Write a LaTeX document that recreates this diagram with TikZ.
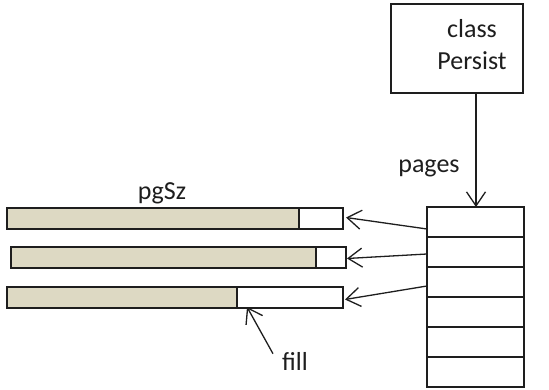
\documentclass[tikz,border=0pt]{standalone}
\usepackage{fontspec}
\setmainfont{Carlito}
\usetikzlibrary{arrows.meta}
\definecolor{ink}{HTML}{1E1E1E}
\definecolor{used}{HTML}{DDD9C3}
\tikzset{
  box/.style={draw=ink, line width=1.6pt, inner sep=0pt, outer sep=0pt, anchor=north west},
  cell/.style={box, minimum width=97pt, minimum height=30pt},
  filled/.style={box, fill=used, minimum height=21pt},
  spare/.style={box, fill=white, minimum height=21pt},
  ptr/.style={draw=ink, line width=1.3pt, -{Straight Barb[length=14pt, width=19pt, line width=1.3pt]}},
  lbl/.style={font=\fontsize{26}{32}\selectfont, text=ink, inner sep=0pt, anchor=base}
}
\begin{document}
\begin{tikzpicture}[x=1pt, y=-1pt]
  \useasboundingbox (0,0) rectangle (549,390);
  \fill[white] (0,0) rectangle (549,390);

  % the Persist object
  \node[box, minimum width=132pt, minimum height=89pt] (persist) at (391,4) {};
  \node[lbl] (cls) at (472,38) {class};
  \node[lbl] (per) at (472,70) {Persist};

  % array of page pointers
  \node[cell] (c1) at (427,207) {};
  \node[cell] (c2) at (427,237) {};
  \node[cell] (c3) at (427,267) {};
  \node[cell] (c4) at (427,297) {};
  \node[cell] (c5) at (427,327) {};
  \node[cell] (c6) at (427,357) {};
  \node[lbl] (pages) at (429,173) {pages};
  \coordinate (drop) at (476,93);
  \coordinate (land) at (476,207);
  \draw[ptr] (drop) -- (land);

  % pages: used part and free space
  \node[filled, minimum width=292pt] (p1u) at (7,208) {};
  \node[spare, minimum width=44pt] (p1f) at (p1u.north east) {};
  \node[filled, minimum width=305pt] (p2u) at (11,247) {};
  \node[spare, minimum width=30pt] (p2f) at (p2u.north east) {};
  \node[filled, minimum width=230pt] (p3u) at (7,287) {};
  \node[spare, minimum width=106pt] (p3f) at (p3u.north east) {};

  \node[lbl] (pgsz) at (162,200) {pgSz};
  \node[lbl] (fill) at (295,370) {fill};

  % pointers from the array to each page
  \draw[ptr] ([yshift=-7pt]c1.west) -- ([xshift=3pt,yshift=1pt]p1f.east);
  \draw[ptr] ([yshift=-2pt]c2.west) -- ([xshift=1pt,yshift=-1pt]p2f.east);
  \draw[ptr] ([yshift=-4pt]c3.west) -- ([xshift=2pt,yshift=-2pt]p3f.east);
  \draw[ptr] ([xshift=-22pt,yshift=-2pt]fill.north) -- ([xshift=10pt,yshift=1pt]p3f.south west);
\end{tikzpicture}
\end{document}
